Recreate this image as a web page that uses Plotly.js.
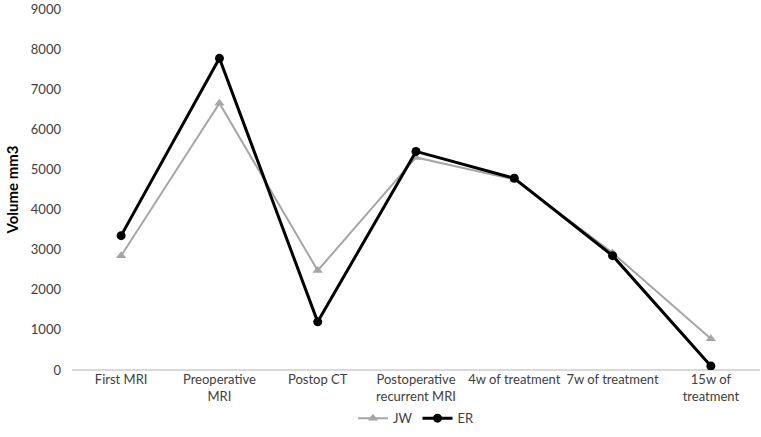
<!DOCTYPE html>
<html><head><meta charset="utf-8">
<script src="https://cdn.plot.ly/plotly-3.0.1.min.js"></script>
<style>body{margin:0;background:#fff}#c{width:761px;height:437px}</style>
</head><body><div id="c"></div>
<script>
const categories = ["First MRI", "Preoperative<br>MRI", "Postop CT", "Postoperative<br>recurrent MRI", "4w of treatment", "7w of treatment", "15w of<br>treatment"];
const jwValues = [2850, 6650, 2480, 5300, 4750, 2920, 780];
const erValues = [3350, 7770, 1200, 5450, 4780, 2850, 100];
const yTicks = [0, 1000, 2000, 3000, 4000, 5000, 6000, 7000, 8000, 9000];

const traces = [
  {x: categories, y: jwValues, name: "JW", type: "scatter", mode: "lines+markers",
   line: {color: "#a6a6a6", width: 2}, marker: {symbol: "triangle-up", size: 9, color: "#a6a6a6"}},
  {x: categories, y: erValues, name: "ER", type: "scatter", mode: "lines+markers",
   line: {color: "#000000", width: 3}, marker: {symbol: "circle", size: 9, color: "#000000"}}
];
const layout = {
  width: 761, height: 437,
  margin: {l: 72, r: 1, t: 9, b: 67},
  paper_bgcolor: "#fff", plot_bgcolor: "#fff",
  font: {family: "Lato, 'Open Sans', sans-serif", size: 13, color: "#404040"},
  showlegend: true,
  legend: {orientation: "h", x: 0.5, xanchor: "center", y: -0.092, yanchor: "top", font: {size: 13},
           itemwidth: 30, tracegroupgap: 0},
  xaxis: {type: "category", range: [-0.5, 6.5], showgrid: false, showline: false, zeroline: false,
          ticks: "", tickfont: {size: 13}, automargin: false},
  yaxis: {range: [0, 9000], tickvals: yTicks, showgrid: false, showline: false, zeroline: true,
          zerolinecolor: "#d9d9d9", zerolinewidth: 1.5, ticks: "", tickfont: {size: 13}, ticklabelstandoff: 10,
          ticklabeloverflow: "allow",
          title: {text: "<b>Volume mm3</b>", font: {size: 15, color: "#000"}, standoff: 8}, automargin: false}
};
Plotly.newPlot("c", traces, layout, {displayModeBar: false, staticPlot: true});
</script></body></html>
